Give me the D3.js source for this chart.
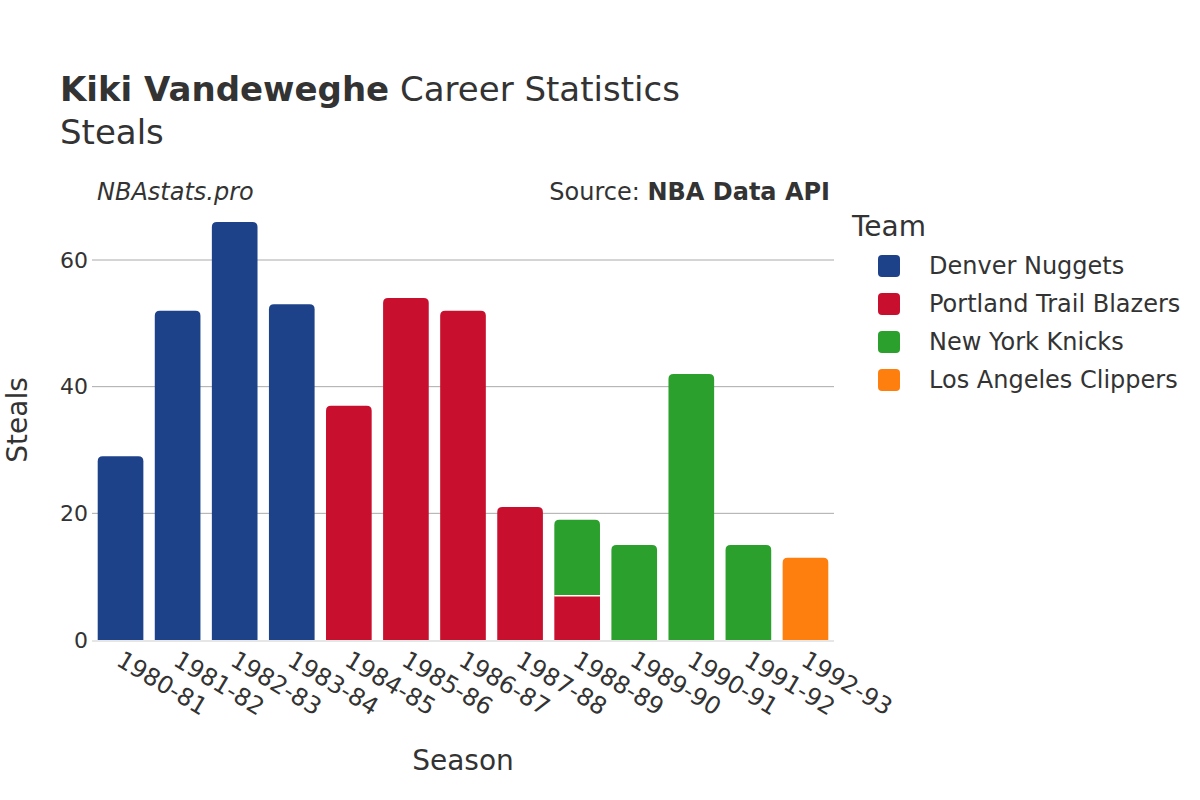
<!DOCTYPE html>
<html><head><meta charset="utf-8">
<script src="https://cdn.jsdelivr.net/npm/d3@7"></script>
<style>body{margin:0;background:#fff;font-family:"DejaVu Sans",sans-serif;}</style>
</head><body><svg id="c" width="1200" height="800"></svg>
<script>
const seasons = ["1980-81","1981-82","1982-83","1983-84","1984-85","1985-86","1986-87","1987-88","1988-89","1989-90","1990-91","1991-92","1992-93"];
const teams = ["Denver Nuggets","Portland Trail Blazers","New York Knicks","Los Angeles Clippers"];
const colors = ["#1d428a","#c8102e","#2ca02c","#ff7f0e"];
const denver   = [29,52,66,53,0,0,0,0,0,0,0,0,0];
const portland = [0,0,0,0,37,54,52,21,7,0,0,0,0];
const knicks   = [0,0,0,0,0,0,0,0,12,15,42,15,0];
const clippers = [0,0,0,0,0,0,0,0,0,0,0,0,13];
const yTicks = [0,20,40,60];

const series = [denver,portland,knicks,clippers];
const txt = "#333";
const svg = d3.select("#c");
const ml=92, mr=834, mb=640;
const x = d3.scaleBand().domain(seasons).range([ml,mr]).paddingInner(0.2).paddingOuter(0.1);
const y = d3.scaleLinear().domain([0,70]).range([mb, mb - 70*(380/60)]);

// gridlines
svg.append("g").selectAll("line").data(yTicks.filter(d=>d>0)).join("line")
  .attr("x1",ml).attr("x2",mr).attr("y1",d=>y(d)).attr("y2",d=>y(d))
  .attr("stroke","#aaaaaa").attr("stroke-width",1);

// y tick labels
svg.append("g").selectAll("text").data(yTicks).join("text")
  .attr("x",88).attr("y",d=>y(d)).attr("dy","0.35em").attr("text-anchor","end")
  .attr("font-size",22).attr("fill",txt).text(d=>d);

function topRounded(x0,y0,w,h,r){
  r=Math.min(r,h,w/2);
  return `M${x0},${y0+h}V${y0+r}Q${x0},${y0} ${x0+r},${y0}H${x0+w-r}Q${x0+w},${y0} ${x0+w},${y0+r}V${y0+h}Z`;
}
// bars
const g = svg.append("g");
seasons.forEach((s,i)=>{
  let base=0;
  const segs=[];
  series.forEach((arr,t)=>{ if(arr[i]>0){ segs.push({t,b:base,v:arr[i]}); base+=arr[i]; } });
  segs.forEach((sg,k)=>{
    const top = k===segs.length-1;
    const x0=x(s), w=x.bandwidth(), y0=y(sg.b+sg.v), h=y(sg.b)-y(sg.b+sg.v);
    g.append("path").attr("d", top?topRounded(x0,y0,w,h,5):`M${x0},${y0}h${w}v${h}h${-w}Z`)
      .attr("fill",colors[sg.t]);
    if(k>0){
      g.append("line").attr("x1",x0).attr("x2",x0+w).attr("y1",y(sg.b)).attr("y2",y(sg.b))
        .attr("stroke","#fff").attr("stroke-width",1.5);
    }
  });
});
// zero line
svg.append("line").attr("x1",ml).attr("x2",mr).attr("y1",y(0)+1).attr("y2",y(0)+1)
  .attr("stroke","#e6e6e6").attr("stroke-width",2);

// x labels
svg.append("g").selectAll("text").data(seasons).join("text")
  .attr("transform",d=>`translate(${x(d)+x.bandwidth()/2+3},${650}) rotate(31)`)
  .attr("dy","0.7em").attr("text-anchor","start").attr("font-size",24).attr("fill",txt).text(d=>d);

// titles
const title = svg.append("text").attr("x",60).attr("y",101).attr("font-size",34).attr("fill",txt);
title.append("tspan").attr("font-weight","bold").text("Kiki Vandeweghe");
title.append("tspan").text(" Career Statistics");
svg.append("text").attr("x",60).attr("y",144).attr("font-size",34).attr("fill",txt).text("Steals");
svg.append("text").attr("x",97).attr("y",200).attr("font-size",24).attr("font-style","italic").attr("fill",txt).text("NBAstats.pro");
const src = svg.append("text").attr("x",830).attr("y",200).attr("text-anchor","end").attr("font-size",24).attr("fill",txt);
src.append("tspan").text("Source: ");
src.append("tspan").attr("font-weight","bold").text("NBA Data API");

svg.append("text").attr("transform","translate(27,420) rotate(-90)").attr("text-anchor","middle")
  .attr("font-size",28).attr("fill",txt).text("Steals");
svg.append("text").attr("x",463).attr("y",770).attr("text-anchor","middle")
  .attr("font-size",28).attr("fill",txt).text("Season");

// legend
svg.append("text").attr("x",852).attr("y",236).attr("font-size",28).attr("fill",txt).text("Team");
const lg = svg.append("g").selectAll("g").data(teams).join("g")
  .attr("transform",(d,i)=>`translate(0,${266+i*38})`);
lg.append("rect").attr("x",878).attr("y",-11).attr("width",22).attr("height",22).attr("rx",4)
  .attr("fill",(d,i)=>colors[i]);
lg.append("text").attr("x",929).attr("y",0).attr("dy","0.35em").attr("font-size",24).attr("fill",txt).text(d=>d);
</script></body></html>
